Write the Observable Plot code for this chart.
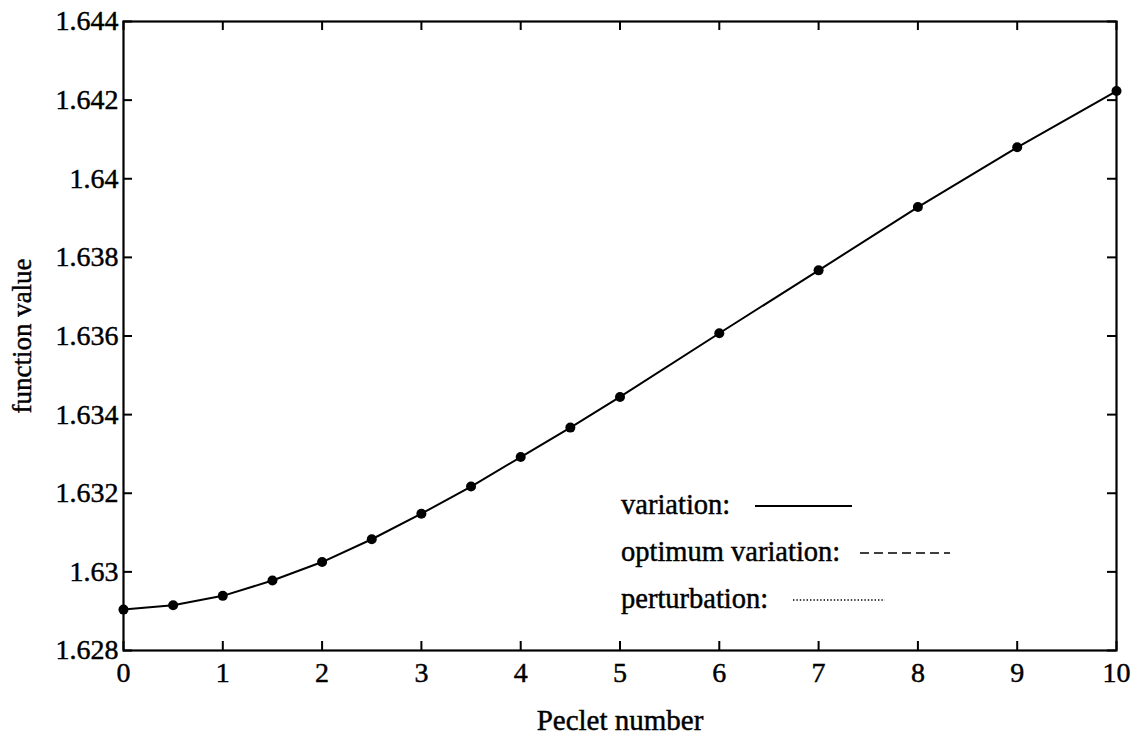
<!DOCTYPE html>
<html>
<head>
<meta charset="utf-8">
<script src="https://cdn.jsdelivr.net/npm/d3@7"></script>
<script src="https://cdn.jsdelivr.net/npm/@observablehq/plot@0.6"></script>
<style>
  html, body { margin: 0; padding: 0; background: #fff; }
  #chart { width: 1136px; height: 739px; }
  #chart svg text { stroke: black; stroke-width: 0.45px; }
</style>
</head>
<body>
<div id="chart"></div>
<script>
// Function value against Peclet number (variation method)
const peclet = [0, 0.5, 1, 1.5, 2, 2.5, 3, 3.5, 4, 4.5, 5, 6, 7, 8, 9, 10];
const functionValue = [
  1.62904, 1.62915, 1.62939, 1.62978, 1.63025, 1.63083, 1.63148, 1.63217,
  1.63292, 1.63367, 1.63445, 1.63607, 1.63767, 1.63928, 1.64080, 1.64223
];

const xTicks = [0, 1, 2, 3, 4, 5, 6, 7, 8, 9, 10];
const xTickLabels = ["0", "1", "2", "3", "4", "5", "6", "7", "8", "9", "10"];
const yTicks = [1.628, 1.630, 1.632, 1.634, 1.636, 1.638, 1.640, 1.642, 1.644];
const yTickLabels = ["1.628", "1.63", "1.632", "1.634", "1.636", "1.638", "1.64", "1.642", "1.644"];

const xLabel = "Peclet number";
const yLabel = "function value";

const legendLabels = ["variation:", "optimum variation:", "perturbation:"];

const points = peclet.map((p, i) => ({peclet: p, value: functionValue[i]}));

const FONT = "'Liberation Serif', 'Times New Roman', Times, serif";
const TICK_FS = 28;
const KEY_FS = 28.5;

// layout
const W = 1136, H = 739;
const M = {left: 123, right: 20, top: 21, bottom: 89};
const innerW = W - M.left - M.right;
const innerH = H - M.top - M.bottom;
const TICK_LEN = 9;

const xFmt = d => xTickLabels[xTicks.indexOf(d)];
const yFmt = d => yTickLabels[yTicks.indexOf(d)];

const tickStyle = {stroke: "black", strokeWidth: 2};

const chart = Plot.plot({
  width: W,
  height: H,
  marginLeft: M.left,
  marginRight: M.right,
  marginTop: M.top,
  marginBottom: M.bottom,
  style: {fontFamily: FONT, fontSize: TICK_FS + "px", color: "black", background: "white", overflow: "visible"},
  x: {domain: [0, 10]},
  y: {domain: [1.628, 1.644]},
  marks: [
    // tick labels (bottom and left only)
    Plot.axisX({anchor: "bottom", ticks: xTicks, tickSize: 0, tickPadding: 12, tickFormat: xFmt,
      label: null, fontSize: TICK_FS}),
    Plot.axisY({anchor: "left", ticks: yTicks, tickSize: 0, tickPadding: 5, tickFormat: yFmt,
      label: null, fontSize: TICK_FS}),
    // short inward-pointing ticks on all four sides of the box
    Plot.tickX(xTicks, {x: d => d, insetTop: innerH - TICK_LEN, ...tickStyle}),
    Plot.tickX(xTicks, {x: d => d, insetBottom: innerH - TICK_LEN, ...tickStyle}),
    Plot.tickY(yTicks, {y: d => d, insetRight: innerW - TICK_LEN, ...tickStyle}),
    Plot.tickY(yTicks, {y: d => d, insetLeft: innerW - TICK_LEN, ...tickStyle}),
    Plot.frame({stroke: "black", strokeWidth: 2.2}),
    Plot.line(points, {x: "peclet", y: "value", stroke: "black", strokeWidth: 2}),
    Plot.dot(points, {x: "peclet", y: "value", r: 5, fill: "black", stroke: "none"}),
    Plot.text([xLabel], {frameAnchor: "bottom", dy: 79, lineAnchor: "bottom", textAnchor: "middle",
      fontSize: 29, fill: "black"}),
    Plot.text([yLabel], {frameAnchor: "left", dx: -101, rotate: -90, lineAnchor: "middle", textAnchor: "middle",
      fontSize: 27, fill: "black"})
  ]
});

document.getElementById("chart").appendChild(chart);

// Line-style key inside the plot area
const svg = d3.select(chart);
const key = svg.append("g")
  .attr("font-family", FONT)
  .attr("font-size", KEY_FS)
  .attr("text-anchor", "start")
  .attr("fill", "black");
const keyRows = [
  {label: legendLabels[0], y: 505, x1: 755, x2: 852, dash: null, width: 2},
  {label: legendLabels[1], y: 552, x1: 860, x2: 950, dash: "9,5", width: 1.6},
  {label: legendLabels[2], y: 599, x1: 793, x2: 885, dash: "1.4,2", width: 1.4}
];
keyRows.forEach(row => {
  key.append("text")
    .attr("x", 621)
    .attr("y", row.y)
    .attr("dy", "0.32em")
    .text(row.label);
  key.append("line")
    .attr("x1", row.x1).attr("x2", row.x2)
    .attr("y1", row.y + 1).attr("y2", row.y + 1)
    .attr("stroke", "black")
    .attr("stroke-width", row.width)
    .attr("stroke-dasharray", row.dash);
});
</script>
</body>
</html>
